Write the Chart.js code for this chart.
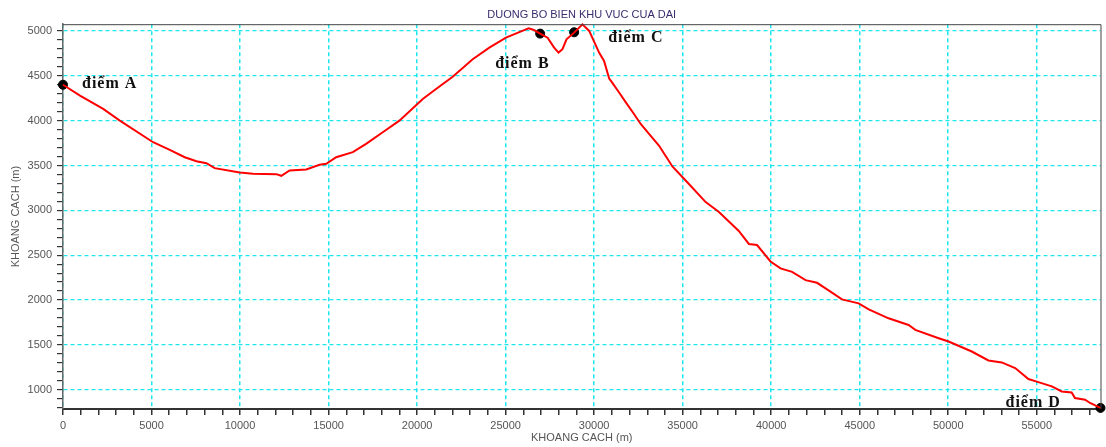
<!DOCTYPE html>
<html>
<head>
<meta charset="utf-8">
<script src="https://cdn.jsdelivr.net/npm/chart.js@4.4.0/dist/chart.umd.min.js"></script>
<style>
	body { margin: 0; background: #fff; }
	#wrap { width: 1106px; height: 447px; }
</style>
</head>
<body>
<div id="wrap"><canvas id="coast-canvas" width="1106" height="447"></canvas></div>
<script>
// Duong bo bien khu vuc Cua Dai
const distances = [0, 960, 2270, 3210, 5090, 6030, 6880, 7540, 8100, 8570, 9980, 10730, 12050, 12330, 12800, 13740, 14490, 14870, 15430, 16370, 17120, 18060, 19000, 20320, 21070, 22010, 23140, 24080, 25020, 26150, 26300, 26600, 26950, 27370, 27740, 27990, 28210, 28440, 28870, 29340, 29720, 30280, 30560, 30850, 31030, 31410, 31790, 32250, 32630, 33100, 33660, 34420, 35170, 36300, 37050, 38170, 38740, 39200, 39960, 40530, 41180, 41940, 42590, 43070, 44000, 44940, 45510, 46630, 47760, 48140, 49460, 50020, 51330, 52270, 53020, 53780, 54530, 55090, 55850, 56410, 56970, 57160, 57730, 58010, 58600];
const elevations = [4400, 4278, 4130, 4000, 3759, 3674, 3592, 3548, 3525, 3470, 3422, 3407, 3403, 3385, 3444, 3455, 3507, 3519, 3592, 3648, 3741, 3870, 4000, 4241, 4352, 4489, 4685, 4814, 4925, 5018, 5030, 5010, 4970, 4925, 4814, 4759, 4796, 4907, 4981, 5074, 5000, 4759, 4666, 4470, 4420, 4314, 4203, 4074, 3963, 3852, 3722, 3489, 3333, 3092, 2981, 2770, 2625, 2613, 2430, 2352, 2314, 2222, 2192, 2129, 2007, 1963, 1896, 1796, 1722, 1667, 1574, 1537, 1426, 1326, 1304, 1241, 1119, 1085, 1037, 981, 970, 908, 889, 852, 797];

const pointNames = ['điểm A', 'điểm B', 'điểm C', 'điểm D'];
const pointX = [0, 26950, 28870, 58600];
const pointY = [4400, 4970, 4985, 797];

const xMin = 0, xMax = 58600, xMinor = 1000, xMajor = 5000;
const yMin = 785, yMax = 5075, yMinor = 100, yMajor = 500;

(function () {
	// text offsets (px) of each label from its dot
	const labelOffsets = [[19, 3], [-45, 34], [34, 10], [-95, -1]];
	const gridColor = '#1ee6ee';

	const pointLabels = {
		id: 'pointLabels',
		afterDatasetsDraw (chart) {
			const { ctx, chartArea, scales } = chart;
			ctx.save();
			ctx.strokeStyle = '#444';
			ctx.lineWidth = 1;
			ctx.beginPath();
			ctx.moveTo(chartArea.left, chartArea.top + 0.5);
			ctx.lineTo(chartArea.right + 0.5, chartArea.top + 0.5);
			ctx.lineTo(chartArea.right + 0.5, chartArea.bottom);
			ctx.stroke();

			ctx.font = 'bold 16px "Liberation Serif", "Times New Roman", serif';
			ctx.letterSpacing = '1px';
			ctx.fillStyle = '#111';
			ctx.textAlign = 'left';
			ctx.textBaseline = 'alphabetic';
			pointNames.forEach((name, i) => {
				const px = scales.x.getPixelForValue(pointX[i]);
				const py = scales.y.getPixelForValue(pointY[i]);
				ctx.fillText(name, px + labelOffsets[i][0], py + labelOffsets[i][1]);
			});
			ctx.restore();
		}
	};

	function minorTicks (from, to, step) {
		const ticks = [];
		for (let v = Math.ceil(from / step) * step; v <= to; v += step) ticks.push({ value: v });
		return ticks;
	}

	const tickFont = { family: 'Liberation Sans, Arial, sans-serif', size: 11 };

	new Chart(document.getElementById('coast-canvas'), {
		type: 'scatter',
		data: {
			datasets: [{
				label: 'duong bo',
				data: distances.map((d, i) => ({ x: d, y: elevations[i] })),
				showLine: true,
				borderColor: '#ff0000',
				borderWidth: 2,
				pointRadius: 0,
				tension: 0,
				clip: false
			}, {
				label: 'diem',
				data: pointX.map((d, i) => ({ x: d, y: pointY[i] })),
				showLine: false,
				pointRadius: 4.5,
				backgroundColor: '#000',
				borderColor: '#000',
				clip: false
			}]
		},
		options: {
			responsive: false,
			animation: false,
			devicePixelRatio: 1,
			layout: { padding: { left: 0, right: 2, top: 0, bottom: 0 } },
			plugins: {
				legend: { display: false },
				tooltip: { enabled: false },
				title: {
					display: true,
					fullSize: false,
					text: 'DUONG BO BIEN KHU VUC CUA DAI',
					color: '#3a2c6e',
					font: { family: 'Liberation Sans, Arial, sans-serif', size: 11, weight: 'normal' },
					padding: { top: 8, bottom: 3 }
				}
			},
			scales: {
				x: {
					type: 'linear',
					min: xMin,
					max: xMax,
					afterBuildTicks (scale) { scale.ticks = minorTicks(xMin, xMax, xMinor); },
					afterFit (scale) { scale.height = 38; },
					border: { color: '#333', width: 2, dash: [4, 3] },
					grid: {
						color: ctx => (ctx.tick && ctx.tick.value % xMajor === 0) ? gridColor : 'rgba(0,0,0,0)',
						lineWidth: 1.5,
						tickColor: '#333',
						tickBorderDash: [],
						tickLength: 6
					},
					ticks: {
						autoSkip: false,
						maxRotation: 0,
						padding: 4,
						color: '#555',
						font: tickFont,
						callback: v => (v % xMajor === 0 ? String(v) : '')
					},
					title: {
						display: true,
						text: 'KHOANG CACH (m)',
						color: '#555',
						font: tickFont,
						padding: { top: 0, bottom: 2 }
					}
				},
				y: {
					type: 'linear',
					min: yMin,
					max: yMax,
					afterBuildTicks (scale) { scale.ticks = minorTicks(yMin, yMax, yMinor); },
					afterFit (scale) { scale.width = 63; },
					border: { color: '#666', width: 1.5, dash: [4, 3] },
					grid: {
						color: ctx => (ctx.tick && ctx.tick.value % yMajor === 0) ? gridColor : 'rgba(0,0,0,0)',
						lineWidth: 1.2,
						tickColor: '#333',
						tickBorderDash: [],
						tickLength: 6
					},
					ticks: {
						autoSkip: false,
						padding: 5,
						color: '#555',
						font: tickFont,
						callback: v => (v % yMajor === 0 ? String(v) : '')
					},
					title: {
						display: true,
						text: 'KHOANG CACH (m)',
						color: '#555',
						font: tickFont,
						padding: { top: 9, bottom: 0 }
					}
				}
			}
		},
		plugins: [pointLabels]
	});
})();
</script>
</body>
</html>
